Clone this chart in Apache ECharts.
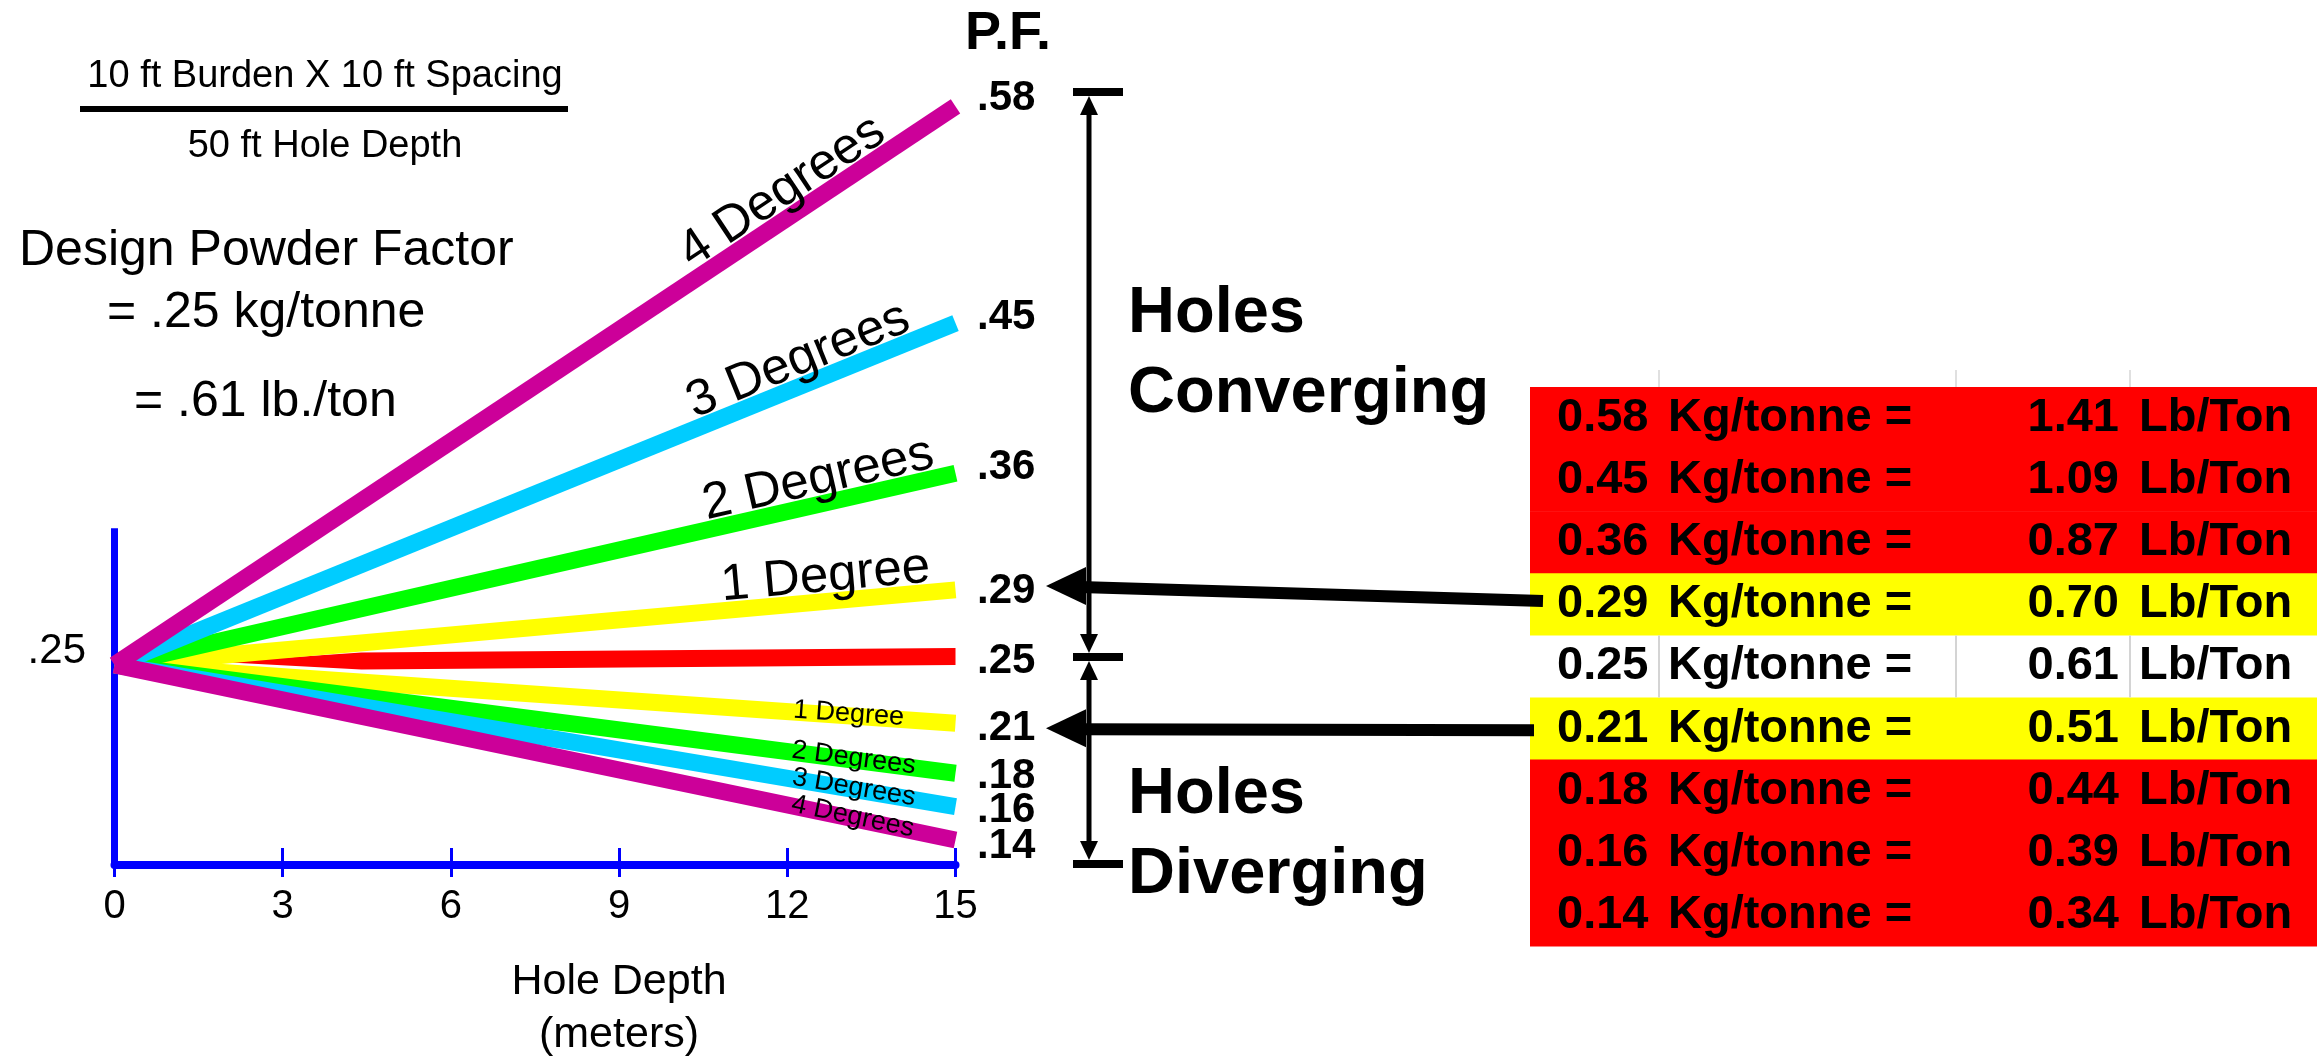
<!DOCTYPE html>
<html><head><meta charset="utf-8">
<script src="https://cdn.jsdelivr.net/npm/echarts@6/dist/echarts.min.js"></script>
<style>html,body{margin:0;padding:0;background:#fff;}#c{width:2317px;height:1060px;}</style>
</head><body><div id="c"></div>
<script>
// ---------- data ----------
const depthTicks = [0, 3, 6, 9, 12, 15];
const lineX = [0, 15];
const startPF = 0.245;
const convergingPF = [0.29, 0.36, 0.45, 0.58];   // 1,2,3,4 degrees
const divergingPF = [0.21, 0.18, 0.16, 0.14];    // 1,2,3,4 degrees
const parallelX = [1.9, 4.4, 15];
const parallelPF = [0.2467, 0.2473, 0.25];
const degreeNames = ['1 Degree', '2 Degrees', '3 Degrees', '4 Degrees'];
const kgPerTonne = ['0.58', '0.45', '0.36', '0.29', '0.25', '0.21', '0.18', '0.16', '0.14'];
const lbPerTon = ['1.41', '1.09', '0.87', '0.70', '0.61', '0.51', '0.44', '0.39', '0.34'];
const pfEndLabels = ['.58', '.45', '.36', '.29', '.25', '.21', '.18', '.16', '.14'];

// ---------- styles ----------
const FONT = "'Liberation Sans', Arial, sans-serif";
const degColors = ['#FFFF00', '#00FF00', '#00CCFF', '#CC0099'];
const LW = 17;
const rowColors = ['#FF0000', '#FF0000', '#FF0000', '#FFFF00', '#FFFFFF', '#FFFF00', '#FF0000', '#FF0000', '#FF0000'];

const chart = echarts.init(document.getElementById('c'), null, {renderer: 'canvas'});

function redWedge(params, api) {
  const p = parallelX.map((x, i) => api.coord([x, parallelPF[i]]));
  const h = LW / 2;
  return {
    type: 'polygon',
    shape: {points: [p[0], [p[1][0], p[1][1] - h], [p[2][0], p[2][1] - h], [p[2][0], p[2][1] + h], [p[1][0], p[1][1] + h]]},
    style: {fill: '#FF0000'}
  };
}

const series = [];
series.push({type: 'line', data: [[0, 0.125], [0, 0.327]], symbol: 'none', lineStyle: {color: '#0000FF', width: 7, cap: 'butt'}, z: 1, silent: true});
series.push({type: 'custom', renderItem: redWedge, data: [[0, 0.25]], z: 2, silent: true, clip: false});
for (let i = 0; i < 4; i++) {
  series.push({type: 'line', data: [[lineX[0], startPF], [lineX[1], divergingPF[i]]], symbol: 'none',
    lineStyle: {color: degColors[i], width: LW, cap: 'butt'}, z: 3 + i, silent: true});
  series.push({type: 'line', data: [[lineX[0], startPF], [lineX[1], convergingPF[i]]], symbol: 'none',
    lineStyle: {color: degColors[i], width: LW, cap: 'butt'}, z: 3 + i, silent: true});
}

const xMin = depthTicks[0], xMax = depthTicks[depthTicks.length - 1];
const option = {
  animation: false,
  backgroundColor: '#ffffff',
  grid: {left: 114.5, right: 2317 - 955.5, top: 73, bottom: 195, containLabel: false},
  xAxis: [{
    type: 'value', min: xMin, max: xMax, interval: 3,
    axisLine: {show: true, lineStyle: {color: '#0000FF', width: 8}},
    axisTick: {show: true, inside: true, length: 17, lineStyle: {color: '#0000FF', width: 3}},
    axisLabel: {color: '#000', fontSize: 40, fontFamily: FONT, margin: 22},
    splitLine: {show: false}
  }, {
    type: 'value', min: xMin, max: xMax, interval: 3, position: 'bottom',
    axisLine: {show: false},
    axisTick: {show: true, inside: false, length: 12, lineStyle: {color: '#0000FF', width: 3}},
    axisLabel: {show: false}, splitLine: {show: false}
  }],
  yAxis: {type: 'value', min: 0.125, max: 0.6, show: false, splitLine: {show: false}},
  series: series
};
chart.setOption(option);

// ---------- annotations ----------
const px = (x, y) => chart.convertToPixel({gridIndex: 0}, [x, y]);
function txt(text, x, y, size, opts) {
  opts = opts || {};
  const align = opts.align || 'left';
  return {
    type: 'text', x: x, y: y, rotation: opts.rotation || 0, z: opts.z || 50, silent: true,
    style: {
      text: text, fill: '#000', fontSize: size, fontFamily: FONT, fontWeight: opts.bold ? 'bold' : 'normal',
      textAlign: align, align: align, textVerticalAlign: 'middle', verticalAlign: 'middle'
    }
  };
}
const g = [];
// formula block
g.push(txt('10 ft Burden X 10 ft Spacing', 325, 77, 38, {align: 'center'}));
g.push({type: 'rect', shape: {x: 80, y: 106, width: 488, height: 6}, style: {fill: '#000'}, silent: true});
g.push(txt('50 ft Hole Depth', 325, 147, 38, {align: 'center'}));
g.push(txt('Design Powder Factor', 19, 251, 50));
g.push(txt('= .25 kg/tonne', 107, 313, 50));
g.push(txt('= .61 lb./ton', 134, 402, 50));
g.push(txt('.25', 86, 651, 42, {align: 'right'}));
g.push(txt('Hole Depth', 619, 982, 43, {align: 'center'}));
g.push(txt('(meters)', 619, 1035, 43, {align: 'center'}));
g.push(txt('P.F.', 965, 34, 54, {bold: true}));

// degree labels along the lines
const upLabelX = [12.72, 12.65, 12.36, 12.15];
const downLabelX = [13.09, 13.18, 13.18, 13.16];
function lineLabel(text, endPF, lx, size, offset) {
  const p0 = px(lineX[0], startPF), p1 = px(lineX[1], endPF);
  const a = Math.atan2(-(p1[1] - p0[1]), p1[0] - p0[0]);
  const t = lx / lineX[1];
  const p = [p0[0] + (p1[0] - p0[0]) * t, p0[1] + (p1[1] - p0[1]) * t];
  const nx = -Math.sin(a), ny = -Math.cos(a);
  return txt(text, p[0] + nx * offset, p[1] + ny * offset, size, {align: 'center', rotation: a, z: 60});
}
for (let i = 0; i < 4; i++) {
  g.push(lineLabel(degreeNames[i], convergingPF[i], upLabelX[i], 51, LW / 2 + 16));
  g.push(lineLabel(degreeNames[i], divergingPF[i], downLabelX[i], 27, 2));
}

// end values
const endVals = [convergingPF[3], convergingPF[2], convergingPF[1], convergingPF[0], parallelPF[2],
  divergingPF[0], divergingPF[1], divergingPF[2], divergingPF[3]];
const endDy = [-8, -6, -6, 2, 5, 5, 3, 4, 6];
for (let i = 0; i < endVals.length; i++) {
  const p = px(lineX[1], endVals[i]);
  g.push(txt(pfEndLabels[i], 977, p[1] + endDy[i], 42, {bold: true}));
}

// dimension arrows
const AX = 1089;
const blk = {fill: '#000'};
function vline(y1, y2) { return {type: 'line', shape: {x1: AX, y1: y1, x2: AX, y2: y2}, style: {stroke: '#000', lineWidth: 5}, silent: true}; }
function head(tipY, dir) { return {type: 'polygon', shape: {points: [[AX, tipY], [AX - 9, tipY + dir * 19], [AX + 9, tipY + dir * 19]]}, style: blk, silent: true}; }
function cap(y) { return {type: 'rect', shape: {x: AX - 16, y: y - 4, width: 50, height: 8}, style: blk, silent: true}; }
g.push(vline(108, 638), head(96, 1), head(653, -1), cap(92), cap(657));
g.push(vline(676, 846), head(661, 1), head(860, -1), cap(864));

g.push(txt('Holes', 1128, 314, 65, {bold: true}));
g.push(txt('Converging', 1128, 394, 65, {bold: true}));
g.push(txt('Holes', 1128, 795, 65, {bold: true}));
g.push(txt('Diverging', 1128, 875, 65, {bold: true}));

// table
const TX = 1530, TY = 387, RH = 62.1;
for (let i = 0; i < kgPerTonne.length; i++) {
  const y = TY + i * RH;
  g.push({type: 'rect', shape: {x: TX, y: y, width: 2317 - TX, height: RH + 0.6}, style: {fill: rowColors[i]}, silent: true, z: 10});
  const cy = y + RH / 2;
  g.push(txt(kgPerTonne[i], 1557, cy, 47, {bold: true}));
  g.push(txt('Kg/tonne =', 1668, cy, 47, {bold: true}));
  g.push(txt(lbPerTon[i], 2119, cy, 47, {bold: true, align: 'right'}));
  g.push(txt('Lb/Ton', 2139, cy, 47, {bold: true}));
}
const wy = TY + 4 * RH;
[1659, 1956, 2130].forEach(function (x) {
  g.push({type: 'line', shape: {x1: x, y1: wy, x2: x, y2: wy + RH}, style: {stroke: '#d4d4d4', lineWidth: 2}, silent: true, z: 20});
  g.push({type: 'line', shape: {x1: x, y1: 370, x2: x, y2: TY}, style: {stroke: '#e0e0e0', lineWidth: 2}, silent: true, z: 20});
});

// pointer arrows from table rows
const p29 = px(lineX[1], convergingPF[0]);
const p21 = px(lineX[1], divergingPF[0]);
function pointer(tipY, rightX, rightY) {
  return [
    {type: 'line', shape: {x1: rightX, y1: rightY, x2: 1080, y2: tipY + 1}, style: {stroke: '#000', lineWidth: 12}, silent: true, z: 30},
    {type: 'polygon', shape: {points: [[1046, tipY], [1086, tipY - 19], [1086, tipY + 19]]}, style: blk, silent: true, z: 30}
  ];
}
g.push.apply(g, pointer(p29[1] - 4, 1543, p29[1] + 11));
g.push.apply(g, pointer(p21[1] + 5, 1534, p21[1] + 7));

chart.setOption({graphic: {elements: g}});
</script>
</body></html>
